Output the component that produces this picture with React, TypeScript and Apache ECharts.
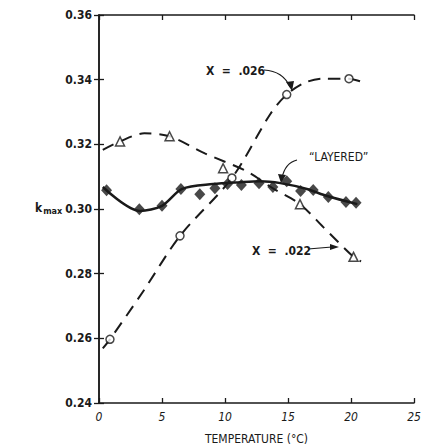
import React, { useEffect, useRef } from "react";
import * as echarts from "echarts";

// X = .026 (open circles)
const t026 = [0.87, 6.43, 10.55, 14.9, 19.84];
const k026 = [0.2597, 0.2917, 0.3096, 0.3354, 0.3403];
const curveT026 = [0.3, 0.87, 3.5, 6.43, 10.55, 13.6, 14.9, 16.35, 17.8, 19.84, 21.0];
const curveK026 = [0.2569, 0.2597, 0.2745, 0.2917, 0.3096, 0.3294, 0.3354, 0.3391, 0.3403, 0.3403, 0.3391];

// X = .022 (open triangles)
const t022 = [1.67, 5.6, 9.85, 15.95, 20.2];
const k022 = [0.3209, 0.3225, 0.3126, 0.3015, 0.2852];
const curveT022 = [0.3, 1.67, 3.6, 5.6, 8.4, 11.7, 13.8, 15.95, 17.8, 20.2, 20.8];
const curveK022 = [0.3183, 0.3209, 0.3234, 0.3225, 0.3172, 0.3117, 0.3064, 0.3015, 0.2944, 0.2852, 0.2838];

// "LAYERED" (filled diamonds)
const tLay = [0.6, 3.2, 5.0, 6.5, 8.0, 9.2, 10.2, 11.3, 12.7, 13.8, 14.9, 16.0, 17.0, 18.2, 19.6, 20.4];
const kLay = [0.3058, 0.2999, 0.301, 0.3062, 0.3046, 0.3064, 0.3077, 0.3074, 0.308, 0.3068, 0.3086, 0.3056, 0.3059, 0.3037, 0.3022, 0.3019];
const curveTLay = [0.3, 3.25, 5.0, 6.6, 9.05, 11.2, 12.8, 14.4, 16.5, 18.1, 20.5];
const curveKLay = [0.3068, 0.2994, 0.301, 0.3062, 0.3077, 0.3083, 0.3086, 0.308, 0.3062, 0.304, 0.3015];

const xTicks = [0, 5, 10, 15, 20, 25];
const yTickLabels = ["0.24", "0.26", "0.28", "0.30", "0.32", "0.34", "0.36"];

const zip = (a: number[], b: number[]) => a.map((v, i) => [v, b[i]]);

const INK = "#1a1a1a";
const FONT = "'DejaVu Sans Condensed', 'DejaVu Sans', sans-serif";

export default function App() {
  const ref = useRef<HTMLDivElement>(null);
  useEffect(() => {
    document.body.style.margin = "0";
    const chart = echarts.init(ref.current!, undefined, { renderer: "svg" });
    const tickStyle = { show: true, inside: true, length: 5, lineStyle: { color: INK, width: 1.3 } };
    const lineStyle = { color: INK, width: 1.5 };
    chart.setOption({
      animation: false,
      backgroundColor: "#fff",
      grid: { left: 99, top: 15, width: 315, height: 388, containLabel: false, outerBoundsMode: "none" },
      xAxis: [
        {
          type: "value", min: 0, max: 25, interval: 5,
          axisLine: { show: true, lineStyle }, axisTick: tickStyle, splitLine: { show: false },
          axisLabel: {
            color: INK, fontFamily: FONT, fontSize: 12, fontStyle: "italic", margin: 8,
            formatter: (v: number) => (xTicks.includes(v) ? String(v) : ""),
          },
          name: "TEMPERATURE (°C)", nameLocation: "middle", nameGap: 30,
          nameTextStyle: { color: INK, fontFamily: FONT, fontSize: 12, letterSpacing: 1.9 },
        },
        {
          type: "value", position: "top", min: 0, max: 25, interval: 5,
          axisLine: { show: true, lineStyle }, axisTick: tickStyle, axisLabel: { show: false }, splitLine: { show: false },
        },
      ],
      yAxis: [
        {
          type: "value", min: 0.24, max: 0.36, interval: 0.02,
          axisLine: { show: true, lineStyle }, axisTick: tickStyle, splitLine: { show: false },
          axisLabel: {
            color: INK, fontFamily: FONT, fontSize: 12, fontWeight: "bold", margin: 7,
            formatter: (v: number) => yTickLabels[Math.round((v - 0.24) / 0.02)] ?? "",
          },
        },
        {
          type: "value", position: "right", min: 0.24, max: 0.36, interval: 0.02,
          axisLine: { show: true, lineStyle }, axisTick: tickStyle, axisLabel: { show: false }, splitLine: { show: false },
        },
      ],
      series: [
        {
          type: "line", data: zip(curveT026, curveK026), smooth: 0.3, showSymbol: false, symbol: "none",
          lineStyle: { color: INK, width: 2, type: [12, 8] }, z: 2,
        },
        {
          type: "line", data: zip(curveT022, curveK022), smooth: 0.3, showSymbol: false, symbol: "none",
          lineStyle: { color: INK, width: 2, type: [12, 8] }, z: 2,
        },
        {
          type: "line", data: zip(curveTLay, curveKLay), smooth: 0.3, showSymbol: false, symbol: "none",
          lineStyle: { color: INK, width: 2.5 }, z: 3,
        },
        {
          type: "scatter", data: zip(t026, k026), symbol: "circle", symbolSize: 8,
          itemStyle: { color: "#fff", borderColor: INK, borderWidth: 1.5 }, z: 5,
        },
        {
          type: "scatter", data: zip(t022, k022), symbol: "triangle", symbolSize: 9,
          itemStyle: { color: "#fff", borderColor: INK, borderWidth: 1.5 }, z: 5,
        },
        {
          type: "scatter", data: zip(tLay, kLay), symbol: "diamond", symbolSize: [11, 12],
          itemStyle: { color: INK }, z: 6,
        },
      ],
      graphic: [
        {
          type: "text", left: 35, top: 202,
          style: {
            text: "{k|k}{m|max}", fontFamily: FONT, fill: INK,
            rich: {
              k: { fontSize: 12, fontWeight: "bold", fontFamily: FONT, fill: INK },
              m: { fontSize: 9, fontWeight: "bold", fontFamily: FONT, fill: INK, padding: [6, 0, 0, 1] },
            },
          },
        },
        {
          type: "text", left: 206, top: 65,
          style: { text: "X  =  .026", fontFamily: FONT, fontSize: 12, fontWeight: "bold", fill: INK },
        },
        {
          type: "bezierCurve",
          shape: { x1: 264, y1: 70, cpx1: 283, cpy1: 71, x2: 290, y2: 87 },
          style: { stroke: INK, lineWidth: 1.2, fill: "none" },
        },
        { type: "polygon", shape: { points: [[286, 82], [294, 81], [292, 91]] }, style: { fill: INK } },
        {
          type: "text", left: 309, top: 151,
          style: { text: "\u201CLAYERED\u201D", fontFamily: FONT, fontSize: 12, fill: INK, letterSpacing: 1.5 },
        },
        {
          type: "bezierCurve",
          shape: { x1: 297, y1: 160, cpx1: 285, cpy1: 163, x2: 282, y2: 178 },
          style: { stroke: INK, lineWidth: 1.2, fill: "none" },
        },
        { type: "polygon", shape: { points: [[278, 174], [286, 175], [281, 183]] }, style: { fill: INK } },
        {
          type: "text", left: 252, top: 245,
          style: { text: "X  =  .022", fontFamily: FONT, fontSize: 12, fontWeight: "bold", fill: INK },
        },
        {
          type: "line", shape: { x1: 308, y1: 249, x2: 332, y2: 247 },
          style: { stroke: INK, lineWidth: 1.2 },
        },
        { type: "polygon", shape: { points: [[330, 244], [339, 247], [330, 250]] }, style: { fill: INK } },
      ],
    });
    return () => chart.dispose();
  }, []);
  return <div ref={ref} style={{ width: 423, height: 445 }} />;
}
